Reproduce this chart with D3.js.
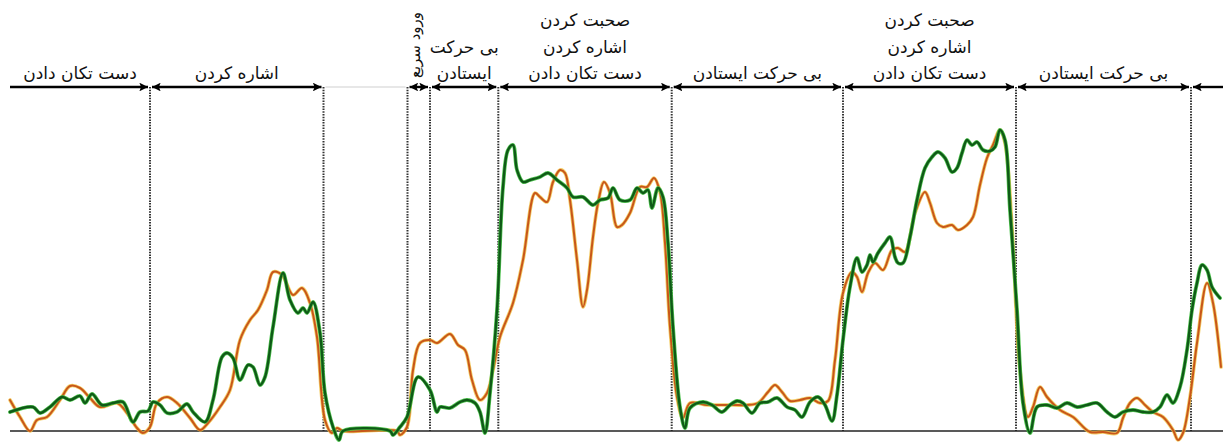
<!DOCTYPE html>
<html><head><meta charset="utf-8">
<script src="https://cdn.jsdelivr.net/npm/d3@7"></script>
<style>body{margin:0;background:#fff}svg{display:block}</style>
</head><body>
<svg id="c" width="1223" height="443"></svg>
<script>
// segment boundaries (time units)
const boundaries = [140, 313.5, 397.5, 420, 488.3, 661.7, 833, 1006, 1181];
const segLabels = [
  ["دست تکان دادن"],
  ["اشاره کردن"],
  [],
  ["ورود سریع"],
  ["بی حرکت", "ایستادن"],
  ["صحبت کردن", "اشاره کردن", "دست تکان دادن"],
  ["بی حرکت ایستادن"],
  ["صحبت کردن", "اشاره کردن", "دست تکان دادن"],
  ["بی حرکت ایستادن"],
  []
];
const greenT = [0,23,30,40,52,60,70,75,82,92,103,113,123,130,138,143,150,157,167,177,183,195,203,212,217,223,230,238,243,250,255,263,273,280,288,293,297,303,310,315,323,329,333,380,383,390,397,408,420,427,430,440,450,457,465,470,475,480,487,493,498,503,507,513,520,530,538,547,557,563,573,583,590,598,603,610,620,627,633,638,642,648,653,658,663,670,675,680,693,702,712,720,727,733,742,750,758,767,777,785,792,800,808,815,822,827,833,840,847,852,857,860,863,868,875,880,885,888,893,900,907,915,922,928,935,942,947,952,957,962,967,973,980,985,990,995,1000,1007,1013,1020,1027,1037,1047,1057,1067,1077,1087,1097,1105,1113,1123,1133,1143,1150,1157,1163,1170,1177,1182,1187,1192,1197,1202,1210];
const greenV = [19,24,18,24,34,31,35,28,37,26,28,29,9,19,20,29,26,18,19,27,19,9,31,74,78,73,51,66,64,46,54,104,158,131,118,123,118,129,98,38,4,-9,0,0,-4,4,14,54,41,19,24,23,29,31,28,19,-2,38,121,244,281,286,261,249,251,254,258,251,243,234,234,226,231,233,243,231,231,243,238,241,223,243,234,188,104,24,3,23,29,26,19,26,30,28,18,28,29,33,24,21,14,29,34,26,10,36,91,144,173,159,166,176,169,178,188,194,174,168,168,194,231,263,274,279,273,259,263,278,291,286,289,281,280,284,301,291,221,121,28,-2,24,26,23,28,24,26,28,19,14,19,21,19,19,24,36,28,44,81,121,148,166,161,144,133];
const orangeT = [0,10,20,27,37,50,60,70,80,90,107,117,127,133,140,147,157,167,180,190,198,210,220,230,240,248,257,263,272,283,292,300,307,315,322,327,333,387,390,397,403,410,420,427,440,448,455,462,470,477,483,490,503,513,525,530,537,543,550,555,560,567,573,577,583,588,594,600,607,612,620,630,637,644,650,655,660,667,673,680,697,710,723,737,748,758,765,772,780,790,800,810,818,825,833,842,847,852,858,865,873,882,888,895,905,915,920,927,933,942,948,957,963,970,977,983,990,995,1002,1010,1018,1023,1030,1037,1050,1063,1080,1093,1107,1113,1120,1127,1135,1143,1153,1163,1168,1173,1180,1187,1197,1203,1211];
const orangeV = [31,14,0,11,14,31,45,43,33,24,28,18,3,-2,4,28,34,28,13,1,8,24,41,91,111,121,141,159,156,136,143,128,94,11,-2,3,0,0,-4,4,61,88,91,88,97,86,81,51,31,38,61,94,128,171,238,234,229,249,261,258,231,171,124,141,194,228,249,238,204,206,218,244,244,253,239,188,104,34,13,28,26,26,26,26,28,39,46,39,30,31,33,28,30,71,138,159,154,139,158,168,161,181,183,179,218,239,228,208,204,206,201,206,214,246,273,286,301,288,204,61,14,24,44,34,21,14,-1,-1,-2,13,28,33,26,19,14,1,-9,-2,34,88,148,128,64];

const svg = d3.select("#c");
const x = d3.scaleLinear().domain([0, 1213]).range([10, 1223]);
const y = d3.scaleLinear().domain([0, 300]).range([431, 131]);
const arrowY = 87;

const defs = svg.append("defs");
defs.append("marker").attr("id","ah").attr("viewBox","0 0 10 10").attr("refX",10).attr("refY",5)
  .attr("markerWidth",3.6).attr("markerHeight",3.6).attr("orient","auto-start-reverse")
  .append("path").attr("d","M0,0L10,5L0,10L2,5Z").attr("fill","#000");

// dotted boundaries
svg.append("g").selectAll("line").data(boundaries).join("line")
  .attr("x1", d=>x(d)).attr("x2", d=>x(d)).attr("y1", arrowY).attr("y2", y(0))
  .attr("stroke","#333").attr("stroke-width",2).attr("stroke-dasharray","1.5,1.2");

// baseline
svg.append("line").attr("x1",x(0)).attr("x2",x(1213)).attr("y1",y(0)).attr("y2",y(0))
  .attr("stroke","#222").attr("stroke-width",1.6);

// segments
const edges = [0, ...boundaries, 1213];
const segs = edges.slice(0,-1).map((s,i)=>({s, e: edges[i+1], labels: segLabels[i], i}));
const ag = svg.append("g");
segs.forEach(sg=>{
  const first = sg.i === 0, last = sg.i === segs.length-1;
  const x1 = x(sg.s) + (first?0:2), x2 = x(sg.e) - (last?0:2);
  const ln = ag.append("line").attr("x1",x1).attr("x2",x2).attr("y1",arrowY).attr("y2",arrowY);
  if (sg.i === 2) { ln.attr("stroke","#d0d0d0").attr("stroke-width",1.2); return; }
  ln.attr("stroke","#000").attr("stroke-width",2.4);
  if (!last) ln.attr("marker-end","url(#ah)");
  if (!first) ln.attr("marker-start","url(#ah)");
});

// labels
const tg = svg.append("g").attr("font-family","'DejaVu Sans', sans-serif").attr("fill","#111");
segs.forEach(sg=>{
  if (!sg.labels.length) return;
  const cx = x((sg.s+sg.e)/2);
  if (sg.i === 3) {
    tg.append("text").attr("transform",`translate(${cx-4},${45}) rotate(-90)`)
      .attr("text-anchor","middle").attr("dominant-baseline","central")
      .attr("font-size",15).text(sg.labels[0]);
    return;
  }
  const n = sg.labels.length;
  sg.labels.forEach((t,k)=>{
    tg.append("text").attr("x",cx).attr("y", 79 - (n-1-k)*26.5)
      .attr("text-anchor","middle").attr("font-size",17).attr("direction","rtl").text(t);
  });
});

// series
const line = (T,V)=> d3.line().x((d,i)=>x(T[i])).y((d,i)=>y(V[i])).curve(d3.curveCatmullRom.alpha(0.5))(V);
const og = svg.append("g").attr("fill","none").attr("stroke-linejoin","round").attr("stroke-linecap","round");
og.append("path").attr("d", line(orangeT, orangeV)).attr("stroke","#f0c040").attr("stroke-width",3.6).attr("opacity",0.8);
og.append("path").attr("d", line(orangeT, orangeV)).attr("stroke","#c8561a").attr("stroke-width",2);
og.append("path").attr("d", line(greenT, greenV)).attr("stroke","#3fbf3f").attr("stroke-width",3.8).attr("opacity",0.9);
og.append("path").attr("d", line(greenT, greenV)).attr("stroke","#0f5a17").attr("stroke-width",2.4);
</script>
</body></html>
